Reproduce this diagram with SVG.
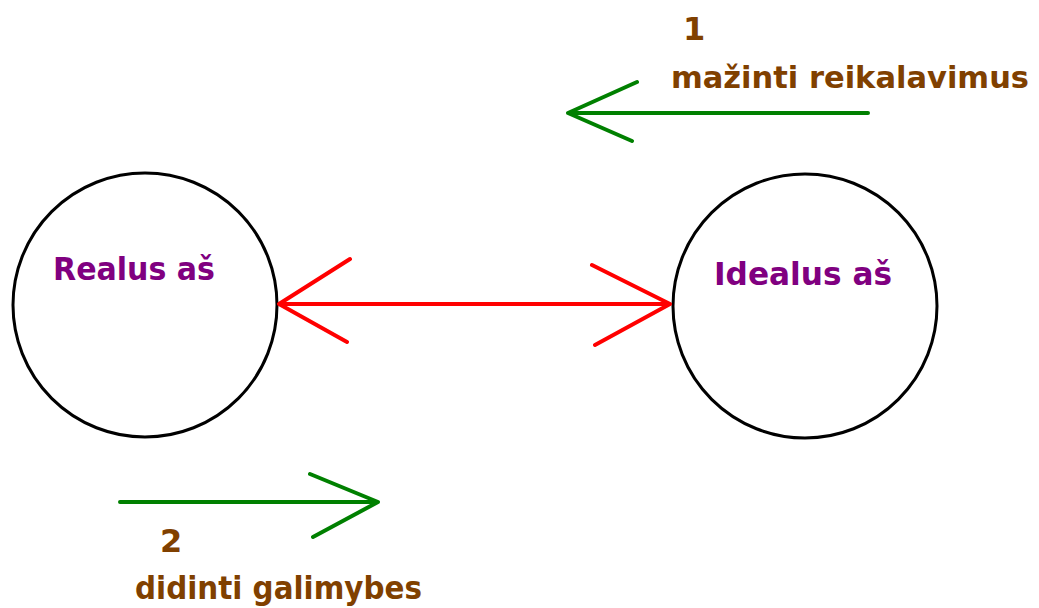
<svg xmlns="http://www.w3.org/2000/svg" width="1039" height="608" viewBox="0 0 1039 608">
<style>
.circle{fill:none;stroke:#000;stroke-width:3}
.lbl{font-family:"DejaVu Sans",Verdana,sans-serif;font-weight:bold;font-size:32px}
.node{fill:#800080}
.note{fill:#804000}
.red{stroke:#ff0000;stroke-width:4;fill:none;stroke-linecap:round;stroke-linejoin:round}
.green{stroke:#008000;stroke-width:4;fill:none;stroke-linecap:round;stroke-linejoin:round}
</style>
<rect width="1039" height="608" fill="#fff"/>
<g id="node-realus">
<circle class="circle" cx="145" cy="305" r="132"/>
<text class="lbl node" x="53" y="280" textLength="162" lengthAdjust="spacingAndGlyphs">Realus aš</text>
</g>
<g id="node-idealus">
<circle class="circle" cx="805" cy="306" r="132"/>
<text class="lbl node" x="714" y="285" textLength="178" lengthAdjust="spacingAndGlyphs">Idealus aš</text>
</g>
<g id="connectors">
<path class="red" d="M279 304 H670 M350 259 L279 304 L347 342 M592 265 L670 304 L595 345"/>
<path class="green" d="M868 113 H568 M637 82 L568 113 L632 141"/>
<path class="green" d="M120 502 H378 M310 474 L378 502 L313 537"/>
</g>
<g id="labels">
<text class="lbl note" x="683" y="40">1</text>
<text class="lbl note" x="671" y="88" style="font-size:30.5px">mažinti reikalavimus</text>
<text class="lbl note" x="160" y="552">2</text>
<text class="lbl note" x="135" y="599" textLength="287" lengthAdjust="spacingAndGlyphs">didinti galimybes</text>
</g>
</svg>
